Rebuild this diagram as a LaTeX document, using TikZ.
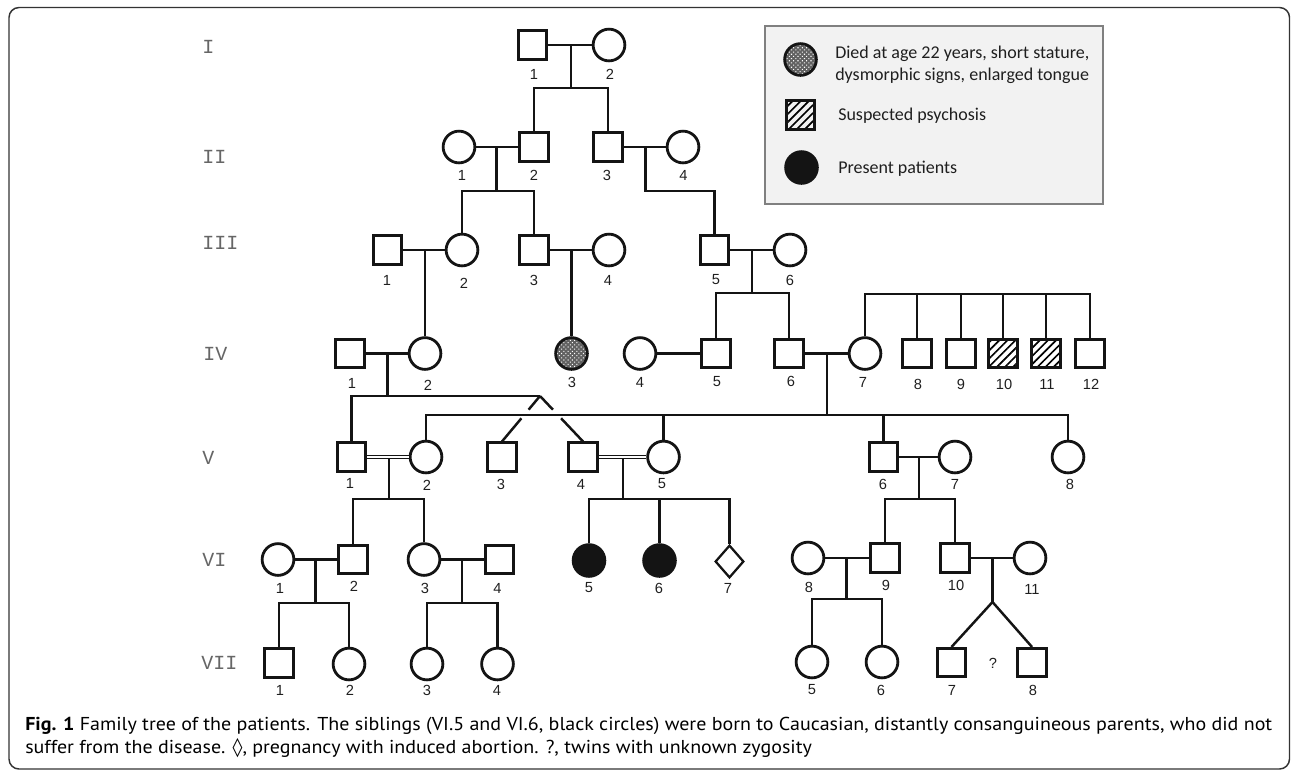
\documentclass[tikz,border=0pt]{standalone}
\usepackage{fontspec}
\usepackage{graphicx}
\setmainfont{Liberation Sans}
\newfontfamily\legfont{Carlito}
\newfontfamily\genfont{Liberation Mono}
\newfontfamily\capfont{PT Sans}
\newfontfamily\lozfont{DejaVu Sans}
\usetikzlibrary{shapes.geometric,patterns.meta,calc}
\newsavebox\capboxA
\newsavebox\capboxB
\begin{document}
\sbox\capboxA{\capfont\fontsize{14pt}{16pt}\selectfont\textbf{Fig. 1} Family tree of the patients. The siblings (VI.5 and VI.6, black circles) were born to Caucasian, distantly consanguineous parents, who did not}%
\sbox\capboxB{\capfont\fontsize{14pt}{16pt}\selectfont suffer from the disease. {\lozfont ◊}, pregnancy with induced abortion. ?, twins with unknown zygosity}%
\begin{tikzpicture}[x=0.75pt,y=-0.75pt]
\tikzset{
 ln/.style={line width=1.85pt, draw=black!92},
 sq/.style={rectangle, draw=black!92, line width=2.1pt, minimum size=21.2pt, inner sep=0pt},
 ci/.style={circle, draw=black!92, line width=2.1pt, minimum size=23.8pt, inner sep=0pt},
 dm/.style={diamond, draw=black!92, line width=1.7pt, minimum width=21.5pt, minimum height=24.5pt, inner sep=0pt},
 aff/.style={fill=black!92},
 stip/.style={preaction={fill=black!62}, pattern={Dots[radius=0.55pt,distance=2.3pt,angle=45]}, pattern color=white},
 hatch/.style={pattern={Lines[angle=45,distance=4.3pt,line width=1.25pt]}, pattern color=black},
 num/.style={font=\fontsize{11pt}{12pt}\selectfont, text=black!88, inner sep=0pt},
 gen/.style={font=\genfont\fontsize{15pt}{16pt}\selectfont, text=black!60, anchor=west, inner sep=0pt},
 cons/.style={double=white, double distance=1.5pt, line width=1pt, draw=black!92},
 leg/.style={font=\legfont\fontsize{13.5pt}{16pt}\selectfont, text=black!88, anchor=base west, inner sep=0pt},
 legbox/.style={draw=black!50, fill=black!5, line width=1.5pt, minimum width=253.5pt, minimum height=133.5pt, inner sep=0pt},
}
\path[use as bounding box] (0,0) rectangle (1292,772);
% frame
\draw[black!80, line width=1.1pt, rounded corners=7.5pt] (9,7.5) rectangle (1289.5,769);

% legend
\node[legbox] (legend) at (934,115) {};
\node[ci,stip] (L1) at (800.5,59.5) {};
\node[sq,hatch] (L2) at (800.5,115) {};
\node[ci,aff] (L3) at (801.5,167.5) {};
\node[leg] (T1a) at (835,58) {Died at age 22 years, short stature,};
\node[leg] (T1b) at (835,80) {dysmorphic signs, enlarged tongue};
\node[leg] (T2) at (838,120) {Suspected psychosis};
\node[leg] (T3) at (838,173) {Present patients};

% generation labels
\node[gen] (gI) at (202,47) {I};
\node[gen] (gII) at (202,157) {II};
\node[gen] (gIII) at (202,243) {III};
\node[gen] (gIV) at (203,354) {IV};
\node[gen] (gV) at (202,458) {V};
\node[gen] (gVI) at (202,560) {VI};
\node[gen] (gVII) at (201,663) {VII};

% Gen I
\node[sq] (I1) at (532.5,45) {};
\node[ci] (I2) at (609,45) {};
% Gen II
\node[ci] (II1) at (459,147) {};
\node[sq] (II2) at (534,147) {};
\node[sq] (II3) at (608,147) {};
\node[ci] (II4) at (683,147) {};
% Gen III
\node[sq] (III1) at (387.5,250) {};
\node[ci] (III2) at (462,250) {};
\node[sq] (III3) at (534,250) {};
\node[ci] (III4) at (609,250) {};
\node[sq] (III5) at (714.5,250) {};
\node[ci] (III6) at (790,250) {};
% Gen IV
\node[sq] (IV1) at (350,353.5) {};
\node[ci] (IV2) at (425,353.5) {};
\node[ci,stip] (IV3) at (571.5,353.5) {};
\node[ci] (IV4) at (640,353.5) {};
\node[sq] (IV5) at (716,353.5) {};
\node[sq] (IV6) at (789,353.5) {};
\node[ci] (IV7) at (865,353.5) {};
\node[sq] (IV8) at (917,353.5) {};
\node[sq] (IV9) at (961,353.5) {};
\node[sq,hatch] (IV10) at (1003,353.5) {};
\node[sq,hatch] (IV11) at (1046,353.5) {};
\node[sq] (IV12) at (1090,353.5) {};
% Gen V
\node[sq] (V1) at (351.5,457) {};
\node[ci] (V2) at (426,457) {};
\node[sq] (V3) at (502,457) {};
\node[sq] (V4) at (583,457) {};
\node[ci] (V5) at (663.5,457) {};
\node[sq] (V6) at (883.5,457) {};
\node[ci] (V7) at (955,457) {};
\node[ci] (V8) at (1068,457) {};
% Gen VI
\node[ci] (VI1) at (278,559.5) {};
\node[sq] (VI2) at (353,559.5) {};
\node[ci] (VI3) at (424,559.5) {};
\node[sq] (VI4) at (499.5,559.5) {};
\node[ci,aff] (VI5) at (589,560.5) {};
\node[ci,aff] (VI6) at (659.5,560.5) {};
\node[dm] (VI7) at (729.5,561.5) {};
\node[ci] (VI8) at (808,558) {};
\node[sq] (VI9) at (885,558) {};
\node[sq] (VI10) at (955,558) {};
\node[ci] (VI11) at (1030,558) {};
% Gen VII
\node[sq] (VII1) at (279,663) {};
\node[ci] (VII2) at (349,664) {};
\node[ci] (VII3) at (427,664) {};
\node[ci] (VII4) at (497.5,664) {};
\node[ci] (VII5) at (812,662) {};
\node[ci] (VII6) at (882,662) {};
\node[sq] (VII7) at (951.5,662.5) {};
\node[sq] (VII8) at (1032,662.5) {};
\node[num] (q) at (993,663) {?};

% connectors I
\draw[ln] (I1) -- (I2);
\coordinate (mI) at ($(I1)!0.5!(I2)$);
\coordinate (sI) at (570.75,88);
\draw[ln] (mI) -- (sI);
\draw[ln] (II2) |- (sI) -| (II3);
% II
\draw[ln] (II1) -- (II2);
\coordinate (mII12) at ($(II1)!0.5!(II2)$);
\coordinate (sII12) at (496.5,191);
\draw[ln] (mII12) -- (sII12);
\draw[ln] (III2) |- (sII12) -| (III3);
\draw[ln] (II3) -- (II4);
\coordinate (mII34) at ($(II3)!0.5!(II4)$);
\coordinate (sII34) at (645.5,191);
\draw[ln] (mII34) -- (sII34) -| (III5);
% III
\draw[ln] (III1) -- (III2);
\coordinate (mIII12) at ($(III1)!0.5!(III2)$);
\draw[ln] (mIII12) -- (mIII12 |- IV2.north);
\draw[ln] (III3) -- (III4);
\coordinate (mIII34) at ($(III3)!0.5!(III4)$);
\draw[ln] (mIII34) -- (mIII34 |- IV3.north);
\draw[ln] (III5) -- (III6);
\coordinate (mIII56) at ($(III5)!0.5!(III6)$);
\coordinate (sIII56) at (752.25,293);
\draw[ln] (mIII56) -- (sIII56);
\draw[ln] (IV5) |- (sIII56) -| (IV6);
% IV.7-12 sibship
\coordinate (sIV7) at (980,294);
\draw[ln] (IV7) |- (sIV7) -| (IV12);
\foreach \n in {IV8,IV9,IV10,IV11} \draw[ln] (\n) -- (\n |- sIV7);
% IV
\draw[ln] (IV1) -- (IV2);
\coordinate (mIV12) at ($(IV1)!0.5!(IV2)$);
\coordinate (apex) at (540,396);
\draw[ln] (mIV12) -- (mIV12 |- apex);
\draw[ln] (V1) |- (apex);
\draw[ln] (apex) -- ($(apex)!0.30!(V3.north)$);
\draw[ln] ($(apex)!0.49!(V3.north)$) -- (V3.north);
\draw[ln] (apex) -- ($(apex)!0.30!(V4.north)$);
\draw[ln] ($(apex)!0.49!(V4.north)$) -- (V4.north);
\draw[ln] (IV4) -- (IV5);
\draw[ln] (IV6) -- (IV7);
\coordinate (mIV67) at ($(IV6)!0.5!(IV7)$);
\coordinate (bV) at (827,415);
\draw[ln] (mIV67) -- (bV);
\draw[ln] (V2) |- (bV) -| (V8);
\draw[ln] (V5) -- (V5 |- bV);
\draw[ln] (V6) -- (V6 |- bV);
% V
\draw[cons] (V1) -- (V2);
\coordinate (mV12) at ($(V1)!0.5!(V2)+(0,1.9)$);
\coordinate (sV12) at (388.75,499);
\draw[ln] (mV12) -- (sV12);
\draw[ln] (VI2) |- (sV12) -| (VI3);
\draw[cons] (V4) -- (V5);
\coordinate (mV45) at ($(V4)!0.5!(V5)+(0,1.9)$);
\coordinate (sV45) at (623.25,499);
\draw[ln] (mV45) -- (sV45);
\draw[ln] (VI5) |- (sV45) -| (VI7);
\draw[ln] (VI6) -- (VI6 |- sV45);
\draw[ln] (V6) -- (V7);
\coordinate (mV67) at ($(V6)!0.5!(V7)$);
\coordinate (sV67) at (919.25,499);
\draw[ln] (mV67) -- (sV67);
\draw[ln] (VI9) |- (sV67) -| (VI10);
% VI
\draw[ln] (VI1) -- (VI2);
\coordinate (mVI12) at ($(VI1)!0.5!(VI2)$);
\coordinate (sVI12) at (315.5,603);
\draw[ln] (mVI12) -- (sVI12);
\draw[ln] (VII1) |- (sVI12) -| (VII2);
\draw[ln] (VI3) -- (VI4);
\coordinate (mVI34) at ($(VI3)!0.5!(VI4)$);
\coordinate (sVI34) at (461.75,603);
\draw[ln] (mVI34) -- (sVI34);
\draw[ln] (VII3) |- (sVI34) -| (VII4);
\draw[ln] (VI8) -- (VI9);
\coordinate (mVI89) at ($(VI8)!0.5!(VI9)$);
\coordinate (sVI89) at (846.5,599);
\draw[ln] (mVI89) -- (sVI89);
\draw[ln] (VII5) |- (sVI89) -| (VII6);
\draw[ln] (VI10) -- (VI11);
\coordinate (mVI1011) at ($(VI10)!0.5!(VI11)$);
\coordinate (tw) at (992.5,602);
\draw[ln] (mVI1011) -- (tw);
\draw[ln] (VII7.north) -- (tw) -- (VII8.north);

% numbers
\foreach \x/\y/\t [count=\i] in {534/74/1, 610/74/2, 462/175/1, 534/175/2, 607/175/3, 683.5/175/4, 387/280/1, 464/283/2, 534/280/3, 608/280/4, 716/280/5, 790/280/6, 352/383/1, 428/385/2, 572/382/3, 640/382/4, 717/382/5, 791/381/6, 863/382/7, 918/384/8, 961/384/9, 1004/384/10, 1047/384/11, 1091/384/12, 350/483/1, 427/485/2, 501/484/3, 581/484/4, 662/484/5, 883/484/6, 955/484/7, 1070/484/8, 280/588/1, 354/586/2, 425/588/3, 497.5/588/4, 589/588/5, 659/588/6, 728/588/7, 809/587/8, 886/585/9, 956/585/10, 1032/589/11, 280/690/1, 350/690/2, 427/690/3, 497/690/4, 812/690/5, 881/690/6, 952/690/7, 1033/690/8}
  \node[num] (lab\i) at (\x,\y) {\t};

% caption
\pgfmathsetmacro\capratio{935.25/\the\wd\capboxA}
\node[anchor=base west, inner sep=0pt, text=black!88] (cap1) at (25,730) {\scalebox{\capratio}[1]{\usebox\capboxA}};
\node[anchor=base west, inner sep=0pt, text=black!88] (cap2) at (25,753) {\scalebox{\capratio}[1]{\usebox\capboxB}};
\end{tikzpicture}
\end{document}
